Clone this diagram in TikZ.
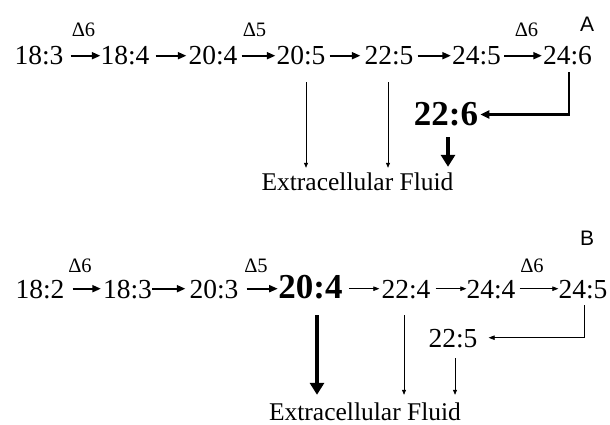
\documentclass[tikz,border=0pt]{standalone}
\usepackage{fontspec}
\setmainfont{Liberation Serif}
\newfontfamily\mySansFam{Liberation Sans}
\usetikzlibrary{arrows.meta}
\newcommand\myNumF{\fontsize{27.5}{30}\selectfont}
\newcommand\myBoldF{\fontsize{35}{40}\selectfont\bfseries}
\newcommand\myDeltaF{\fontsize{20.5}{22}\selectfont}
\newcommand\myEcfF{\fontsize{25.5}{28}\selectfont}
\newcommand\myLblF{\mySansFam\fontsize{21}{24}\selectfont}
\tikzset{
  num/.style={font=\myNumF, inner sep=0pt, anchor=base, text height=18.6pt, text depth=0pt},
  bnum/.style={font=\myBoldF, inner sep=0pt, anchor=base, text height=21pt, text depth=0pt},
  dlt/.style={font=\myDeltaF, inner sep=0pt, anchor=base},
  lbl/.style={font=\myLblF, inner sep=0pt, anchor=base},
  ecf/.style={font=\myEcfF, inner sep=0pt, anchor=base, text height=17.5pt, text depth=0pt},
  harr/.style={line width=1.8pt, -{Triangle[length=8.5pt,width=7pt]}},
  tharr/.style={line width=0.7pt, -{Triangle[length=6pt,width=4.5pt]}},
  varr/.style={line width=0.7pt, -{Triangle[length=5pt,width=4pt]}},
  bigarr/.style={line width=3.5pt, -{Triangle[length=12pt,width=14pt]}},
  elbowA/.style={line width=2.5pt, line join=miter, -{Triangle[length=9pt,width=8pt]}},
  elbowB/.style={line width=0.7pt, -{Triangle[length=6pt,width=4.5pt]}},
}
\begin{document}
\begin{tikzpicture}[x=1pt,y=-1pt]
\useasboundingbox (0,0) rectangle (610,425);
\fill[white] (0,0) rectangle (610,425);

% ---------- Panel A ----------
\node[lbl] (labA) at (587,32) {A};
\node[num] (a1) at (39,65) {18:3};
\node[num] (a2) at (125,65) {18:4};
\node[num] (a3) at (213,65) {20:4};
\node[num] (a4) at (301,65) {20:5};
\node[num] (a5) at (389,65) {22:5};
\node[num] (a6) at (476.5,65) {24:5};
\node[num] (a7) at (567.5,65) {24:6};
\node[dlt] (da1) at (83.5,37) {Δ6};
\node[dlt] (da2) at (254.5,37) {Δ5};
\node[dlt] (da3) at (526.5,37) {Δ6};
\node[bnum] (a8) at (446,125) {22:6};
\node[ecf] (ecfA) at (357.5,190) {Extracellular Fluid};

\draw[harr, shorten <=7pt, shorten >=0pt] (a1.east) -- (a1.east -| a2.west);
\draw[harr, shorten <=6pt, shorten >=2pt] (a2.east) -- (a2.east -| a3.west);
\draw[harr, shorten <=4pt, shorten >=1pt] (a3.east) -- (a3.east -| a4.west);
\draw[harr, shorten <=4pt, shorten >=4pt] (a4.east) -- (a4.east -| a5.west);
\draw[harr, shorten <=4pt, shorten >=1pt] (a5.east) -- (a5.east -| a6.west);
\draw[harr, shorten <=3pt, shorten >=1pt] (a6.east) -- (a6.east -| a7.west);

\draw[elbowA, shorten <=7pt, shorten >=2pt] ([xshift=1.5pt]a7.south) |- (a8.east);

\draw[varr, shorten <=17pt, shorten >=4.5pt] ([xshift=5pt]a4.south) -- ([xshift=5pt]a4.south |- ecfA.north);
\draw[varr, shorten <=17pt, shorten >=4.5pt] ([xshift=-1pt]a5.south) -- ([xshift=-1pt]a5.south |- ecfA.north);
\draw[bigarr, shorten <=12pt, shorten >=5.5pt] ([xshift=2pt]a8.south) -- ([xshift=2pt]a8.south |- ecfA.north);

% ---------- Panel B ----------
\node[lbl] (labB) at (587,245) {B};
\node[num] (b1) at (40,298) {18:2};
\node[num] (b2) at (127.5,298) {18:3};
\node[num] (b3) at (214,298) {20:3};
\node[bnum] (b4) at (310.5,298) {20:4};
\node[num] (b5) at (406,298) {22:4};
\node[num] (b6) at (491,298) {24:4};
\node[num] (b7) at (583,298) {24:5};
\node[dlt] (db1) at (80,272) {Δ6};
\node[dlt] (db2) at (256,272) {Δ5};
\node[dlt] (db3) at (532,272) {Δ6};
\node[num] (b8) at (453,347) {22:5};
\node[ecf] (ecfB) at (365,420) {Extracellular Fluid};

\draw[harr, shorten <=8pt, shorten >=2pt] (b1.east) -- (b1.east -| b2.west);
\draw[harr, shorten <=0pt, shorten >=4pt] (b2.east) -- (b2.east -| b3.west);
\draw[harr, shorten <=8pt, shorten >=0.5pt] (b3.east) -- (b3.east -| b4.west);
\draw[tharr, shorten <=6pt, shorten >=2pt] (b4.east |- b5.east) -- (b5.west);
\draw[tharr, shorten <=5pt, shorten >=0pt] (b5.east) -- (b5.east -| b6.west);
\draw[tharr, shorten <=4pt, shorten >=0pt] (b6.east) -- (b6.east -| b7.west);

\draw[elbowB, shorten <=7pt, shorten >=11pt] ([xshift=1pt]b7.south) |- (b8.east);

\draw[bigarr, shorten <=17pt, shorten >=7.5pt] ([xshift=6.5pt]b4.south) -- ([xshift=6.5pt]b4.south |- ecfB.north);
\draw[varr, shorten <=17pt, shorten >=7.5pt] ([xshift=-2pt]b5.south) -- ([xshift=-2pt]b5.south |- ecfB.north);
\draw[varr, shorten <=11pt, shorten >=7.5pt] ([xshift=2pt]b8.south) -- ([xshift=2pt]b8.south |- ecfB.north);
\end{tikzpicture}
\end{document}
